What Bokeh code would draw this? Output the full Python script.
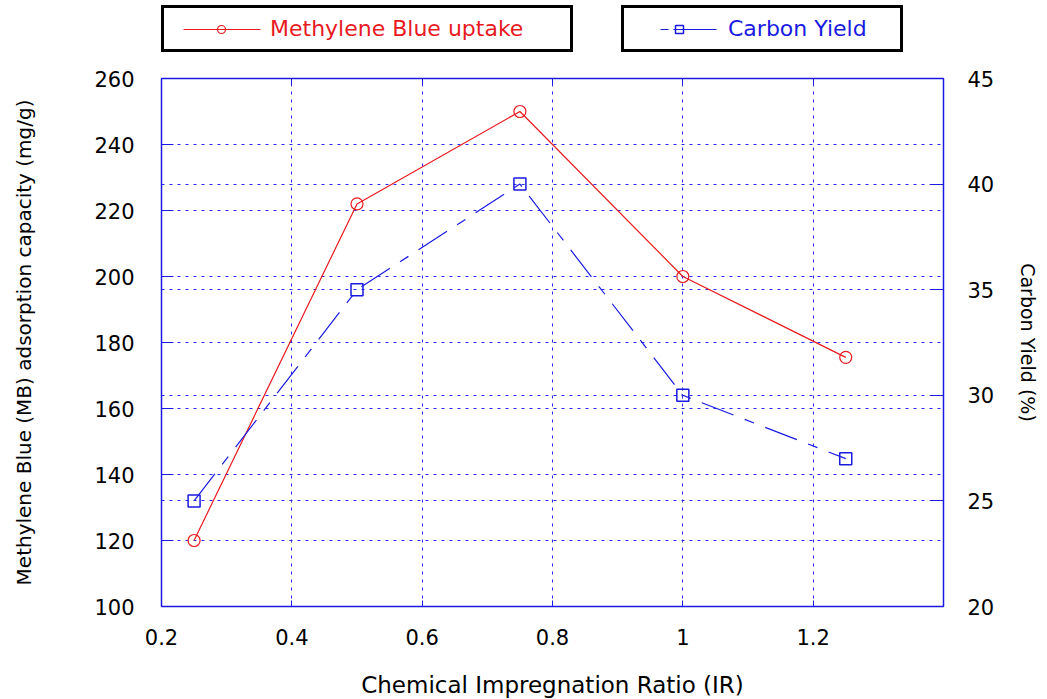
from bokeh.plotting import figure
from bokeh.layouts import column
from bokeh.models import (Range1d, LinearAxis, SingleIntervalTicker, Grid, Legend, LegendItem,
                          CustomJSTickFormatter)
from bokeh.embed import file_html
from bokeh.resources import INLINE

# ---- data ----
ir_ratio = [0.25, 0.5, 0.75, 1.0, 1.25]
mb_uptake = [120, 222, 250, 200, 175.5]
carbon_yield = [25, 35, 40, 30, 27]

x_label = "Chemical Impregnation Ratio (IR)"
y_left_label = "Methylene Blue (MB) adsorption capacity (mg/g)"
y_right_label = "Carbon Yield (%)"
mb_name = "Methylene Blue uptake"
cy_name = "Carbon Yield"

RED = "#e8191f"
BLUE = "#1a1ae0"
GRID = "#2a2ae6"
FONT = "DejaVu Sans"
CY_DASH = "34 12 10 12"

LEG_H = 56

p = figure(frame_width=782, frame_height=528, output_backend="svg", toolbar_location=None,
           x_range=Range1d(0.2, 1.4), y_range=Range1d(100, 260),
           min_border_left=161, min_border_right=96, min_border_top=78 - LEG_H,
           min_border_bottom=88)
p.extra_y_ranges = {"cy": Range1d(20, 45)}
p.outline_line_color = BLUE
p.outline_line_width = 1.5
p.background_fill_color = "white"
p.border_fill_color = "white"

# grids
p.xgrid.ticker = SingleIntervalTicker(interval=0.2)
p.ygrid.ticker = SingleIntervalTicker(interval=20)
for g in (p.xgrid, p.ygrid):
    g.grid_line_color = GRID
    g.grid_line_dash = "3 5"
    g.grid_line_width = 1
g2 = Grid(dimension=1, ticker=SingleIntervalTicker(interval=5), y_range_name="cy",
          grid_line_color=GRID, grid_line_dash="3 5", grid_line_width=1)
p.add_layout(g2)

fmt = CustomJSTickFormatter(code="return String(Number(tick.toFixed(3)));")

# axes styling
xa = p.xaxis[0]
xa.ticker = SingleIntervalTicker(interval=0.2)
xa.formatter = fmt
ya = p.yaxis[0]
ya.ticker = SingleIntervalTicker(interval=20)
ya2 = LinearAxis(y_range_name="cy", ticker=SingleIntervalTicker(interval=5))
p.add_layout(ya2, "right")
xtop = LinearAxis(ticker=SingleIntervalTicker(interval=0.2), formatter=fmt)
p.add_layout(xtop, "above")

for ax in (xa, ya, ya2, xtop):
    ax.axis_line_color = BLUE
    ax.major_tick_line_color = BLUE
    ax.minor_tick_line_color = None
    ax.major_tick_out = 0
    ax.major_tick_in = 12
    ax.major_label_text_font = FONT
    ax.major_label_text_font_size = "21px"
    ax.major_label_text_color = "black"
    ax.axis_label_text_font = FONT
    ax.axis_label_text_font_size = "20px"
    ax.axis_label_text_font_style = "normal"
    ax.axis_label_text_color = "black"
xa.major_tick_in = 6
xtop.major_tick_in = 6
xtop.major_label_text_alpha = 0
xtop.major_label_text_font_size = "1px"
xtop.major_label_standoff = 0
xa.major_label_standoff = 18
xa.axis_label_standoff = 24
xa.axis_label_text_font_size = "23px"
ya.major_label_standoff = 23
ya.axis_label_standoff = 55
ya2.major_label_standoff = 20
ya2.axis_label_standoff = 20
ya2.axis_label_text_font_size = "19px"
xa.axis_label = x_label
ya.axis_label = y_left_label
ya2.axis_label = y_right_label

# data
p.line(ir_ratio, mb_uptake, line_color=RED, line_width=1.2)
p.scatter(ir_ratio, mb_uptake, marker="circle", size=12, fill_color=None,
          line_color=RED, line_width=1.2)
p.line(ir_ratio, carbon_yield, y_range_name="cy", line_color=BLUE, line_width=1.2,
       line_dash=CY_DASH)
p.scatter(ir_ratio, carbon_yield, y_range_name="cy", marker="square", size=12,
          fill_color=None, line_color=BLUE, line_width=1.5)

# ---- legend strip (separate boxes above the plot) ----
# its ranges keep the series off-screen; the renderers only feed the legend glyphs
lf = figure(width=1047, height=LEG_H, output_backend="svg", toolbar_location=None,
            x_range=Range1d(-10, -9), y_range=Range1d(-10, -9),
            x_axis_location=None, y_axis_location=None, min_border=0)
lf.outline_line_color = None
lf.xgrid.visible = False
lf.ygrid.visible = False
lf.background_fill_color = "white"
lf.border_fill_color = "white"
l1 = lf.line(ir_ratio, mb_uptake, line_color=RED, line_width=1.2,
             line_dash="77 21", line_dash_offset=87)
m1 = lf.scatter(ir_ratio, mb_uptake, marker="circle", size=12, fill_color=None,
                line_color=RED, line_width=1.2)
l2 = lf.line(ir_ratio, carbon_yield, line_color=BLUE, line_width=1.2,
             line_dash="8 5 43 38", line_dash_offset=66)
m2 = lf.scatter(ir_ratio, carbon_yield, marker="square", size=12, fill_color=None,
                line_color=BLUE, line_width=1.5)

def make_legend(items, color, loc, glyph_w, standoff, label_w):
    lg = Legend(items=items, location=loc, orientation="vertical",
                label_text_font=FONT, label_text_font_size="22px", label_text_color=color,
                border_line_color="black", border_line_width=3, border_line_alpha=1,
                background_fill_color="white", background_fill_alpha=1,
                glyph_width=glyph_w, glyph_height=20, padding=8, spacing=0, margin=0,
                label_standoff=standoff, label_height=20, label_width=label_w)
    lf.add_layout(lg, "center")
    return lg

make_legend([LegendItem(label=mb_name, renderers=[l1, m1])], RED, (0, 4), 98, 0, 292)
make_legend([LegendItem(label=cy_name, renderers=[l2, m2])], BLUE, (460, 4), 94, 2, 164)

layout = column(lf, p, spacing=0)
open("out.html", "w").write(file_html(layout, INLINE))
